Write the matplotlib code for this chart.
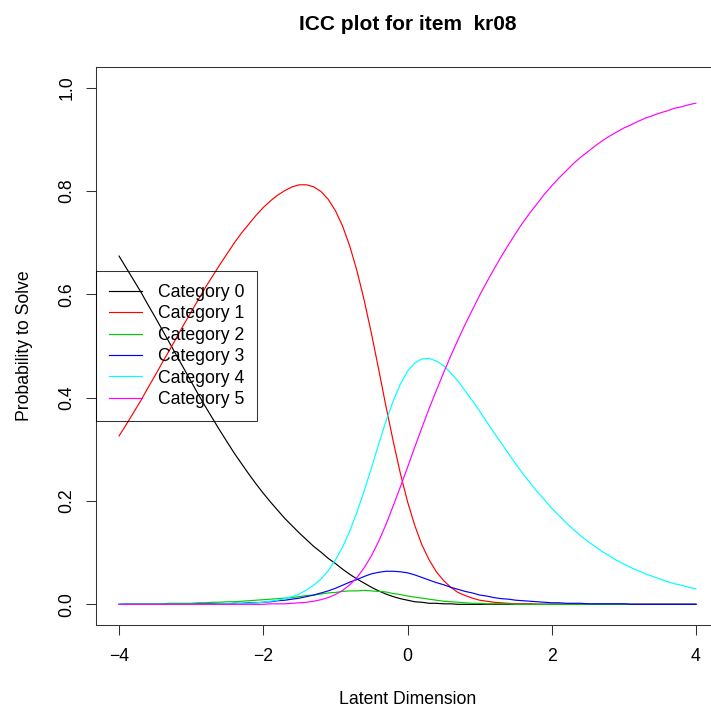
import numpy as np
import matplotlib
matplotlib.use("Agg")
import matplotlib.pyplot as plt

plt.rcParams['font.family'] = ['Liberation Sans', 'DejaVu Sans']

# latent dimension grid (-4 .. 4, step 0.1) and category probabilities
theta = np.linspace(-4.0, 4.0, 81)

cat0 = [0.674, 0.651, 0.628, 0.605, 0.580, 0.556, 0.531, 0.506, 0.481, 0.456,
        0.431, 0.406, 0.382, 0.359, 0.336, 0.314, 0.292, 0.272, 0.252, 0.233,
        0.215, 0.198, 0.182, 0.166, 0.152, 0.138, 0.125, 0.112, 0.101, 0.089,
        0.079, 0.068, 0.058, 0.049, 0.041, 0.033, 0.026, 0.020, 0.015, 0.011,
        0.008, 0.005, 0.004, 0.002, 0.002, 0.001, 0.001, 0.000, 0.000, 0.000,
        0.000, 0.000, 0.000, 0.000, 0.000, 0.000, 0.000, 0.000, 0.000, 0.000,
        0.000, 0.000, 0.000, 0.000, 0.000, 0.000, 0.000, 0.000, 0.000, 0.000,
        0.000, 0.000, 0.000, 0.000, 0.000, 0.000, 0.000, 0.000, 0.000, 0.000,
        0.000]
cat1 = [0.326, 0.348, 0.371, 0.394, 0.419, 0.443, 0.468, 0.492, 0.517, 0.542,
        0.566, 0.590, 0.614, 0.636, 0.658, 0.679, 0.700, 0.719, 0.736, 0.753,
        0.768, 0.781, 0.792, 0.801, 0.808, 0.812, 0.812, 0.808, 0.799, 0.784,
        0.762, 0.732, 0.693, 0.645, 0.588, 0.524, 0.455, 0.384, 0.317, 0.254,
        0.199, 0.153, 0.115, 0.086, 0.063, 0.046, 0.033, 0.023, 0.017, 0.012,
        0.008, 0.006, 0.004, 0.003, 0.002, 0.001, 0.001, 0.001, 0.000, 0.000,
        0.000, 0.000, 0.000, 0.000, 0.000, 0.000, 0.000, 0.000, 0.000, 0.000,
        0.000, 0.000, 0.000, 0.000, 0.000, 0.000, 0.000, 0.000, 0.000, 0.000,
        0.000]
cat2 = [0.000, 0.001, 0.001, 0.001, 0.001, 0.001, 0.001, 0.002, 0.002, 0.002,
        0.002, 0.003, 0.003, 0.004, 0.004, 0.005, 0.005, 0.006, 0.007, 0.008,
        0.009, 0.010, 0.011, 0.012, 0.013, 0.015, 0.017, 0.018, 0.020, 0.022,
        0.023, 0.025, 0.026, 0.026, 0.027, 0.026, 0.025, 0.024, 0.021, 0.019,
        0.016, 0.014, 0.012, 0.010, 0.008, 0.006, 0.005, 0.004, 0.003, 0.002,
        0.002, 0.001, 0.001, 0.001, 0.001, 0.000, 0.000, 0.000, 0.000, 0.000,
        0.000, 0.000, 0.000, 0.000, 0.000, 0.000, 0.000, 0.000, 0.000, 0.000,
        0.000, 0.000, 0.000, 0.000, 0.000, 0.000, 0.000, 0.000, 0.000, 0.000,
        0.000]
cat3 = [0.000, 0.000, 0.000, 0.000, 0.000, 0.000, 0.000, 0.000, 0.000, 0.000,
        0.000, 0.001, 0.001, 0.001, 0.001, 0.001, 0.002, 0.002, 0.003, 0.003,
        0.004, 0.005, 0.007, 0.008, 0.010, 0.012, 0.015, 0.018, 0.022, 0.026,
        0.031, 0.037, 0.043, 0.048, 0.054, 0.059, 0.062, 0.064, 0.064, 0.063,
        0.061, 0.057, 0.052, 0.047, 0.042, 0.038, 0.033, 0.029, 0.025, 0.022,
        0.018, 0.016, 0.013, 0.011, 0.010, 0.008, 0.007, 0.006, 0.005, 0.004,
        0.003, 0.003, 0.002, 0.002, 0.002, 0.001, 0.001, 0.001, 0.001, 0.001,
        0.001, 0.000, 0.000, 0.000, 0.000, 0.000, 0.000, 0.000, 0.000, 0.000,
        0.000]
cat4 = [0.000, 0.000, 0.000, 0.000, 0.000, 0.000, 0.000, 0.000, 0.000, 0.000,
        0.000, 0.000, 0.000, 0.000, 0.001, 0.001, 0.001, 0.002, 0.002, 0.003,
        0.004, 0.006, 0.008, 0.011, 0.015, 0.020, 0.028, 0.037, 0.049, 0.065,
        0.086, 0.111, 0.142, 0.179, 0.220, 0.264, 0.310, 0.354, 0.393, 0.426,
        0.451, 0.467, 0.475, 0.476, 0.471, 0.462, 0.448, 0.432, 0.413, 0.394,
        0.374, 0.353, 0.332, 0.312, 0.292, 0.272, 0.253, 0.235, 0.218, 0.202,
        0.186, 0.172, 0.158, 0.145, 0.133, 0.122, 0.112, 0.102, 0.094, 0.085,
        0.078, 0.071, 0.065, 0.059, 0.054, 0.049, 0.044, 0.040, 0.037, 0.033,
        0.030]
cat5 = [0.000, 0.000, 0.000, 0.000, 0.000, 0.000, 0.000, 0.000, 0.000, 0.000,
        0.000, 0.000, 0.000, 0.000, 0.000, 0.000, 0.000, 0.000, 0.000, 0.000,
        0.000, 0.001, 0.001, 0.001, 0.002, 0.003, 0.004, 0.006, 0.009, 0.013,
        0.019, 0.027, 0.038, 0.052, 0.071, 0.094, 0.122, 0.154, 0.190, 0.227,
        0.265, 0.304, 0.342, 0.379, 0.414, 0.448, 0.481, 0.512, 0.542, 0.570,
        0.598, 0.624, 0.649, 0.673, 0.696, 0.718, 0.739, 0.758, 0.776, 0.794,
        0.810, 0.825, 0.839, 0.853, 0.865, 0.876, 0.887, 0.897, 0.906, 0.914,
        0.922, 0.928, 0.935, 0.941, 0.946, 0.951, 0.955, 0.960, 0.963, 0.967,
        0.970]

labels = ["Category 0", "Category 1", "Category 2", "Category 3", "Category 4", "Category 5"]
colors = ["black", "#FF0000", "#00CD00", "#0000FF", "#00FFFF", "#FF00FF"]

xticks = [-4, -2, 0, 2, 4]
yticks = [0.0, 0.2, 0.4, 0.6, 0.8, 1.0]

W, H = 711, 709
fig = plt.figure(figsize=(W / 100, H / 100), dpi=100)
# plot box runs a little past the right edge of the image, as in the reference
ax = fig.add_axes([96 / W, 1 - 625 / H, (719 - 96) / W, (625 - 67) / H])

for vals, lab, col in zip([cat0, cat1, cat2, cat3, cat4, cat5], labels, colors):
    ax.plot(theta, vals, color=col, lw=0.85, label=lab)

ax.set_xlim(-4.32, 4.32)
ax.set_ylim(-0.04, 1.04)
ax.set_xticks(xticks)
ax.set_xticklabels([str(t).replace("-", "\u2212") for t in xticks])
ax.set_yticks(yticks)
ax.set_yticklabels(["%.1f" % t for t in yticks], rotation=90, va="center")
ax.tick_params(axis="both", direction="out", length=7.2, width=0.75, labelsize=12.7,
               color="#333333")
ax.tick_params(axis="x", pad=9.5)
ax.tick_params(axis="y", pad=7.5)
for s in ax.spines.values():
    s.set_linewidth(0.75)
    s.set_color("#333333")

leg = ax.legend(loc="center left", bbox_to_anchor=(0, 0.5), borderaxespad=0,
                fontsize=12.7, fancybox=False, handlelength=1.85, handletextpad=0.9,
                labelspacing=0.25, borderpad=0.75)
leg.get_frame().set_facecolor("none")
leg.get_frame().set_edgecolor("black")
leg.get_frame().set_linewidth(0.75)

fig.text(408 / W, 1 - 30 / H, "ICC plot for item  kr08", ha="center", va="baseline",
         fontsize=15, fontweight="bold")
fig.text(407.5 / W, 1 - 699 / H, "Latent Dimension", ha="center", va="center", fontsize=12.7)
fig.text(25 / W, 1 - 346 / H, "Probability to Solve", ha="center", va="center",
         rotation=90, fontsize=12.7)

fig.savefig("out.png", dpi=100)
